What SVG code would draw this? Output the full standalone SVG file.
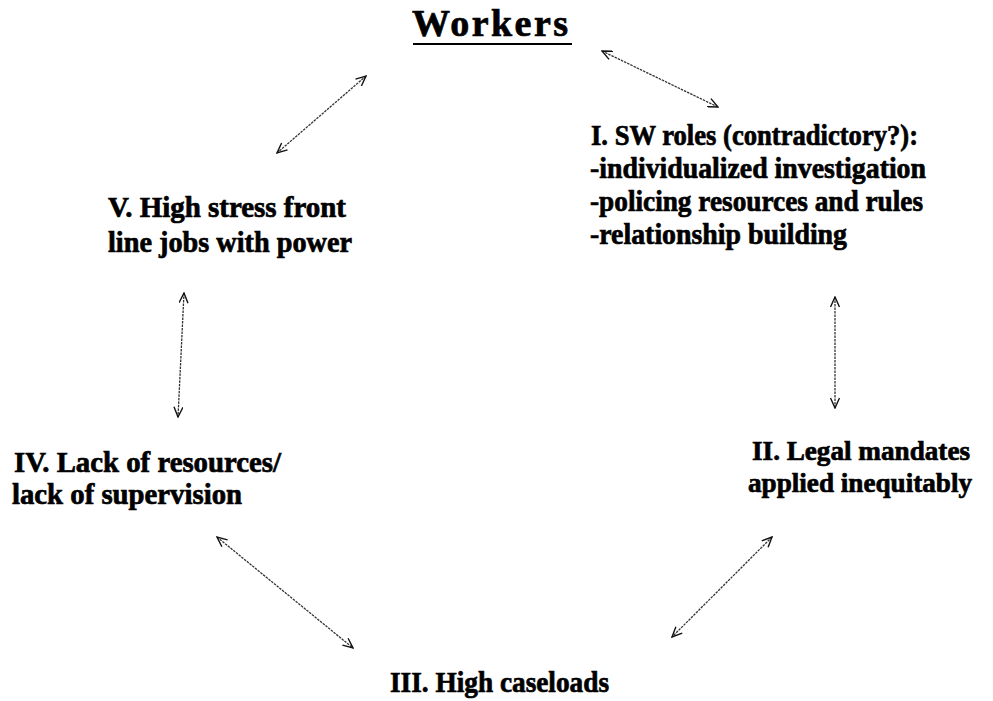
<svg xmlns="http://www.w3.org/2000/svg" width="993" height="701" viewBox="0 0 993 701">
  <style>
    .t { font-family: "Liberation Serif", "Times New Roman", serif; font-weight: bold; fill: #000; stroke: #000; stroke-width: 0.7; }
    .n { font-size: 30px; }
    .s { font-size: 28px; }
    .link { fill: none; stroke: #333; stroke-width: 1.3; stroke-dasharray: 2.5 1; }
  </style>
  <defs>
    <marker id="arrow" viewBox="0 0 12 10" refX="11" refY="5" markerWidth="12" markerHeight="10" markerUnits="userSpaceOnUse" orient="auto-start-reverse">
      <path d="M1,0.5 L11,5 L1,9.5" fill="none" stroke="#111" stroke-width="1.4"/>
    </marker>
  </defs>
  <rect width="993" height="701" fill="#fff"/>

  <g id="workers">
    <text class="t" x="412" y="36" font-size="38" textLength="156" lengthAdjust="spacing">Workers</text>
    <line x1="413" y1="44" x2="572" y2="44" stroke="#000" stroke-width="2"/>
  </g>

  <g id="node-1">
    <text class="t n" x="591" y="145" textLength="327" lengthAdjust="spacingAndGlyphs">I. SW roles (contradictory?):</text>
    <text class="t n" x="590" y="178" textLength="336" lengthAdjust="spacingAndGlyphs">-individualized investigation</text>
    <text class="t n" x="590" y="211" textLength="333" lengthAdjust="spacingAndGlyphs">-policing resources and rules</text>
    <text class="t n" x="590" y="244" textLength="257" lengthAdjust="spacingAndGlyphs">-relationship building</text>
  </g>

  <g id="node-2">
    <text class="t s" x="752" y="460" textLength="218" lengthAdjust="spacingAndGlyphs">II. Legal mandates</text>
    <text class="t s" x="748" y="492" textLength="224" lengthAdjust="spacingAndGlyphs">applied inequitably</text>
  </g>

  <g id="node-3">
    <text class="t n" x="390" y="692" textLength="219" lengthAdjust="spacingAndGlyphs">III. High caseloads</text>
  </g>

  <g id="node-4">
    <text class="t n" x="14" y="472" textLength="267" lengthAdjust="spacingAndGlyphs">IV. Lack of resources/</text>
    <text class="t n" x="12" y="504" textLength="230" lengthAdjust="spacingAndGlyphs">lack of supervision</text>
  </g>

  <g id="node-5">
    <text class="t n" x="108" y="217" textLength="238" lengthAdjust="spacingAndGlyphs">V. High stress front</text>
    <text class="t n" x="108" y="252" textLength="244" lengthAdjust="spacingAndGlyphs">line jobs with power</text>
  </g>

  <g id="connectors">
    <line class="link" x1="602" y1="51" x2="718" y2="107" marker-start="url(#arrow)" marker-end="url(#arrow)"/>
    <line class="link" x1="835" y1="297" x2="835" y2="408" marker-start="url(#arrow)" marker-end="url(#arrow)"/>
    <line class="link" x1="772" y1="537" x2="672" y2="637" marker-start="url(#arrow)" marker-end="url(#arrow)"/>
    <line class="link" x1="217" y1="537" x2="353" y2="648" marker-start="url(#arrow)" marker-end="url(#arrow)"/>
    <line class="link" x1="184" y1="293" x2="178" y2="417" marker-start="url(#arrow)" marker-end="url(#arrow)"/>
    <line class="link" x1="366" y1="76" x2="277" y2="153" marker-start="url(#arrow)" marker-end="url(#arrow)"/>
  </g>
</svg>
